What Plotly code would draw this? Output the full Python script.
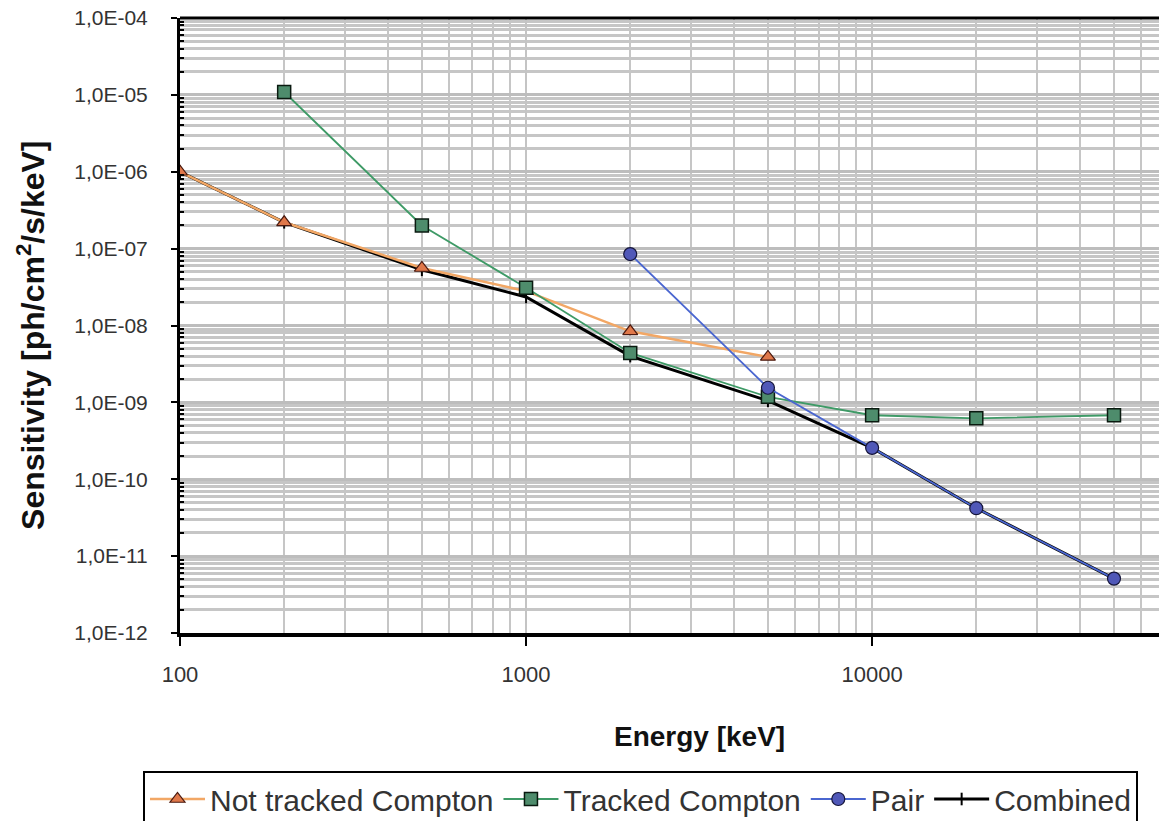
import plotly.graph_objects as go

# ---- data ----
energy_not_tracked = [100, 200, 500, 1000, 2000, 5000]
sens_not_tracked = [1.0e-6, 2.2e-7, 5.6e-8, 2.8e-8, 8.4e-9, 3.9e-9]

energy_tracked = [200, 500, 1000, 2000, 5000, 10000, 20000, 50000]
sens_tracked = [1.09e-5, 2.0e-7, 3.1e-8, 4.4e-9, 1.18e-9, 6.8e-10, 6.2e-10, 6.8e-10]

energy_pair = [2000, 5000, 10000, 20000, 50000]
sens_pair = [8.5e-8, 1.55e-9, 2.56e-10, 4.2e-11, 5.1e-12]

energy_combined = [100, 200, 500, 1000, 2000, 5000, 10000, 20000, 50000]
sens_combined = [1.0e-6, 2.2e-7, 5.3e-8, 2.35e-8, 4.0e-9, 1.05e-9, 2.56e-10, 4.2e-11, 5.1e-12]

x_tickvals = [100, 1000, 10000]
x_ticktext = ["100", "1000", "10000"]
y_tickvals = [1e-12, 1e-11, 1e-10, 1e-9, 1e-8, 1e-7, 1e-6, 1e-5, 1e-4]
y_ticktext = ["1,0E-12", "1,0E-11", "1,0E-10", "1,0E-09", "1,0E-08",
              "1,0E-07", "1,0E-06", "1,0E-05", "1,0E-04"]

series_names = ["Not tracked Compton", "Tracked Compton", "Pair", "Combined"]

# minor gridline positions (2..9 within each decade)
x_minor = [m * 10 ** d for d in range(2, 5) for m in range(2, 10)]
y_minor = [m * 10.0 ** d for d in range(-12, -4) for m in range(2, 10)]

FONT = "Liberation Sans, Arial, sans-serif"

fig = go.Figure()

fig.add_trace(go.Scatter(
    x=energy_combined, y=sens_combined, name=series_names[3], mode="lines+markers",
    line=dict(color="black", width=3),
    marker=dict(symbol="line-ns", size=9, color="black", line=dict(color="black", width=2)),
    legendrank=4))

fig.add_trace(go.Scatter(
    x=energy_not_tracked, y=sens_not_tracked, name=series_names[0], mode="lines+markers",
    line=dict(color="#F2A765", width=2.5),
    marker=dict(symbol="triangle-up", size=13, color="#E0784A", line=dict(color="#4a1a10", width=1.2)),
    legendrank=1))

fig.add_trace(go.Scatter(
    x=energy_tracked, y=sens_tracked, name=series_names[1], mode="lines+markers",
    line=dict(color="#3E9A66", width=1.8),
    marker=dict(symbol="square", size=13, color="#4E8C6C", line=dict(color="#0a1a10", width=1.5)),
    legendrank=2))

fig.add_trace(go.Scatter(
    x=energy_pair, y=sens_pair, name=series_names[2], mode="lines+markers",
    line=dict(color="#4A66D0", width=1.8),
    marker=dict(symbol="circle", size=13, color="#5058B8", line=dict(color="#15153a", width=1.2)),
    legendrank=3))

fig.update_xaxes(
    type="log", range=[2, 4.829],
    tickmode="array", tickvals=x_tickvals, ticktext=x_ticktext,
    ticks="outside", ticklen=9, tickwidth=2, tickcolor="black",
    ticklabelstandoff=10,
    tickfont=dict(family=FONT, size=22, color="#333333"),
    showline=True, linecolor="black", linewidth=4,
    showgrid=True, gridcolor="#C4C4C4", gridwidth=1.8,
    minor=dict(tickmode="array", tickvals=x_minor, showgrid=True,
               gridcolor="#C6C6C6", gridwidth=1.8, ticks=""),
    zeroline=False, automargin=False)

fig.update_yaxes(
    type="log", range=[-12, -4],
    tickmode="array", tickvals=y_tickvals, ticktext=y_ticktext,
    ticks="outside", ticklen=6, tickwidth=2, tickcolor="black",
    ticklabelstandoff=19,
    tickfont=dict(family=FONT, size=21, color="#333333"),
    showline=True, linecolor="black", linewidth=3,
    showgrid=True, gridcolor="#BDBDBD", gridwidth=3,
    minor=dict(tickmode="array", tickvals=y_minor, showgrid=True,
               gridcolor="#C6C6C6", gridwidth=2.5, ticks="inside", ticklen=4,
               tickcolor="black", tickwidth=1.5),
    zeroline=False, automargin=False)

fig.add_shape(type="line", xref="paper", yref="paper", x0=0, x1=1, y0=1, y1=1,
              line=dict(color="black", width=3))

fig.add_annotation(text="<b>Energy [keV]</b>", xref="paper", yref="paper",
                   x=0.531, y=-0.1675, xanchor="center", yanchor="middle",
                   showarrow=False, font=dict(family=FONT, size=28, color="#111111"))
fig.add_annotation(text="<b>Sensitivity [ph/cm<sup>2</sup>/s/keV]</b>", xref="paper", yref="paper",
                   x=-0.1522, y=0.4846, xanchor="center", yanchor="middle", textangle=-90,
                   showarrow=False, font=dict(family=FONT, size=32, color="#111111"))

fig.update_layout(
    width=1159, height=821,
    margin=dict(l=180, r=0, t=18, b=188, autoexpand=False),
    plot_bgcolor="white", paper_bgcolor="white",
    showlegend=True,
    legend=dict(orientation="h", x=-0.0378, y=-0.2244, xanchor="left", yanchor="top",
                font=dict(family=FONT, size=30, color="#333333"),
                bgcolor="white", bordercolor="black", borderwidth=2,
                itemwidth=55, traceorder="normal"),
)

fig.write_html("out.html")
